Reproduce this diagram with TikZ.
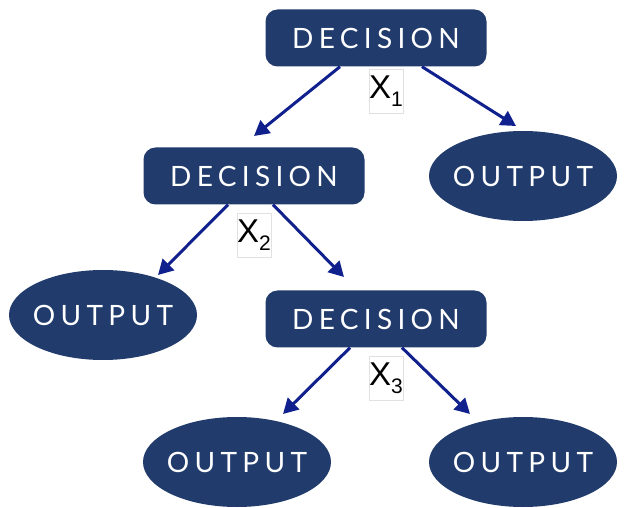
\documentclass[tikz,border=0pt]{standalone}
\usepackage{fontspec}
\usetikzlibrary{shapes.geometric,arrows.meta}
\newfontfamily\boxfont[LetterSpace=19]{Lato}
\newfontfamily\labfont{Liberation Sans}
\definecolor{navy}{RGB}{32,59,108}
\definecolor{arrowblue}{RGB}{16,32,140}
\definecolor{labborder}{RGB}{225,225,225}
\newcommand{\zw}[1]{\makebox[0pt]{#1}}
\begin{document}
\begin{tikzpicture}[x=1pt,y=-1pt,
  decbox/.style={draw=none,fill=navy,rounded corners=12pt,minimum width=221pt,minimum height=57pt,inner sep=0pt,text=white,font=\boxfont\fontsize{28}{32}\selectfont},
  outbox/.style={ellipse,draw=none,fill=navy,minimum width=188pt,minimum height=90pt,inner sep=0pt,text=white,font=\boxfont\fontsize{28}{32}\selectfont},
  lab/.style={draw=labborder,line width=0.5pt,fill=white,minimum width=33pt,minimum height=44pt,inner sep=0pt,font=\labfont\fontsize{33}{35}\selectfont},
  conn/.style={draw=arrowblue,line width=3pt,-{Triangle[length=15pt,width=16pt]}}]
\useasboundingbox (0,0) rectangle (625,508);
\node[decbox] (d1) at (376,38) {DECISION};
\node[decbox] (d2) at (254,176) {DECISION};
\node[decbox] (d3) at (376,319) {DECISION};
\node[outbox] (o1) at (523,176) {\zw{OUTPUT}};
\node[outbox] (o2) at (103,315) {\zw{OUTPUT}};
\node[outbox] (o3) at (237,462) {\zw{OUTPUT}};
\node[outbox] (o4) at (523,462) {\zw{OUTPUT}};
\coordinate (a1) at (254,136);
\coordinate (b1) at (516,126);
\coordinate (a2) at (158,275);
\coordinate (b2) at (344,277);
\coordinate (a3) at (283,414);
\coordinate (b3) at (470,414);
\draw[conn] (d1.south -| 340,0) -- (a1);
\draw[conn] (d1.south -| 422,0) -- (b1);
\draw[conn] (d2.south -| 228,0) -- (a2);
\draw[conn] (d2.south -| 273,0) -- (b2);
\draw[conn] (d3.south -| 350,0) -- (a3);
\draw[conn] (d3.south -| 402,0) -- (b3);
\node[lab] (x1) at (386,91) {X\raisebox{-0.25em}{\fontsize{21}{23}\selectfont 1}};
\node[lab] (x2) at (254,235) {X\raisebox{-0.25em}{\fontsize{21}{23}\selectfont 2}};
\node[lab] (x3) at (386,378) {X\raisebox{-0.25em}{\fontsize{21}{23}\selectfont 3}};
\end{tikzpicture}
\end{document}
